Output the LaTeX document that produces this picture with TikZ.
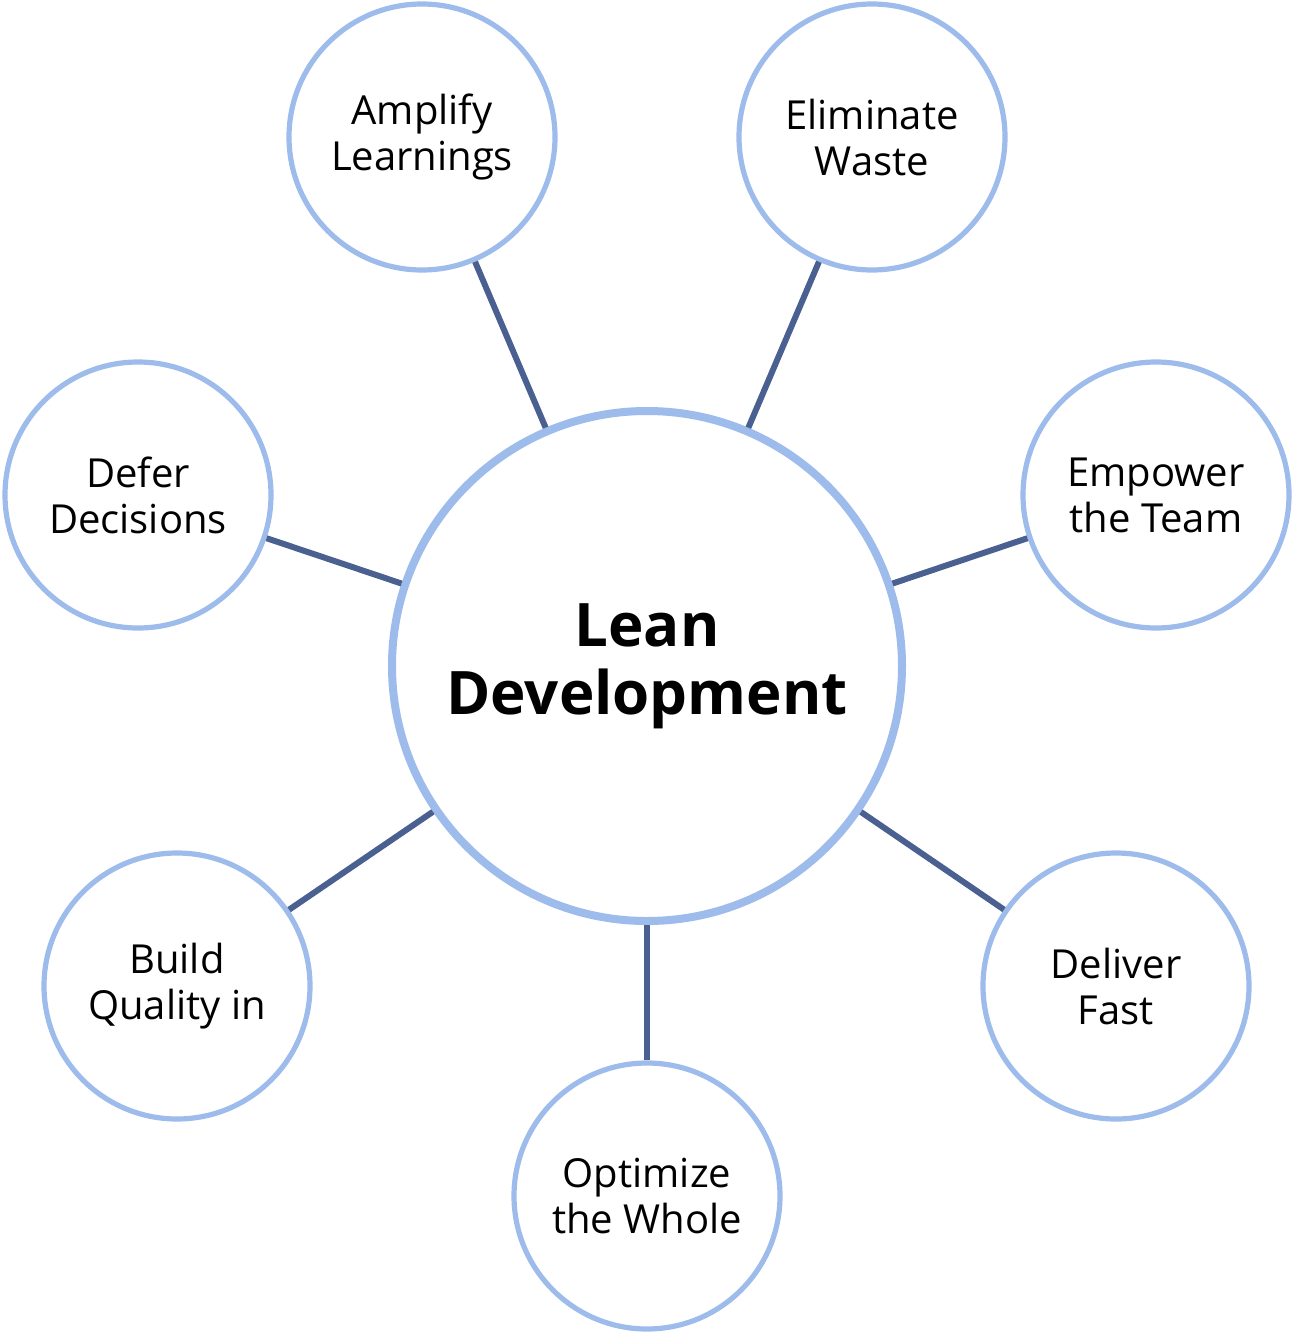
\documentclass[tikz,border=0pt]{standalone}
\usepackage{fontspec}
\setmainfont{Open Sans}
\definecolor{ring}{HTML}{9DBBEB}
\definecolor{link}{HTML}{4A6090}
\begin{document}
\begin{tikzpicture}[x=0.5pt,y=-0.5pt,
  leaf/.style={circle,draw=ring,line width=2.6pt,fill=white,minimum size=133pt,inner sep=0pt,align=center,font=\fontsize{20}{23}\selectfont},
  hub/.style={circle,draw=ring,line width=4pt,fill=white,minimum size=255pt,inner sep=0pt,align=center,font=\fontsize{30}{34}\selectfont\bfseries},
  conn/.style={draw=link,line width=3pt}]
\useasboundingbox (0,0) rectangle (1294,1334);
\node[hub] (c) at (647,666) {Lean\\Development};
\node[leaf] (a) at (422,137) {Amplify\\Learnings};
\node[leaf] (e) at (872,137) {Eliminate\\Waste};
\node[leaf] (p) at (1156,495) {Empower\\the Team};
\node[leaf] (d) at (138,495) {Defer\\Decisions};
\node[leaf] (b) at (177,986) {Build\\Quality in};
\node[leaf] (f) at (1116,986) {Deliver\\Fast};
\node[leaf] (o) at (647,1196) {Optimize\\the Whole};
\foreach \n in {a,e,p,d,b,f,o} \draw[conn] (c) -- (\n);
\end{tikzpicture}
\end{document}
